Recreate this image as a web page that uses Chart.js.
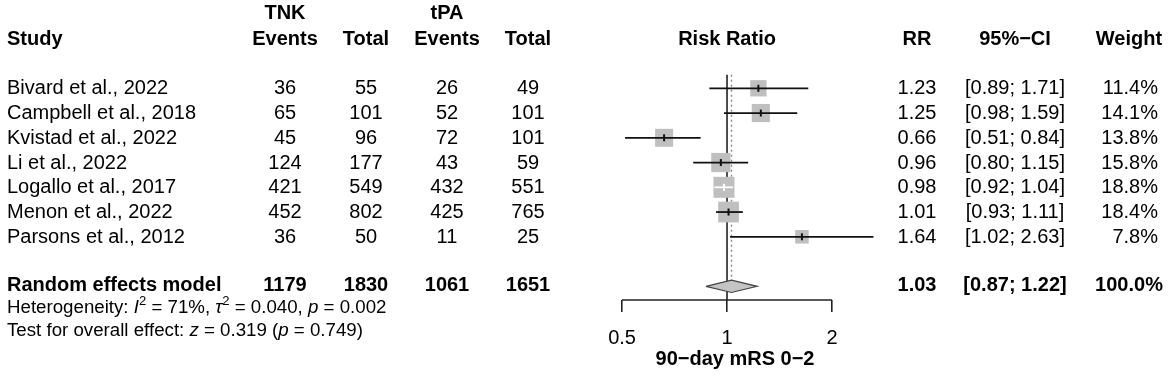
<!DOCTYPE html>
<html>
<head>
<meta charset="utf-8">
<script src="https://cdn.jsdelivr.net/npm/chart.js@4.4.1/dist/chart.umd.min.js"></script>
<style>
  html, body { margin: 0; padding: 0; background: #fff; }
  #wrap { width: 1170px; height: 378px; }
</style>
</head>
<body>
<div id="wrap"><canvas id="c" width="1170" height="378"></canvas></div>
<script>
// ---------- data ----------
const studies   = ["Bivard et al., 2022", "Campbell et al., 2018", "Kvistad et al., 2022", "Li et al., 2022",
                   "Logallo et al., 2017", "Menon et al., 2022", "Parsons et al., 2012"];
const tnkEvents = [36, 65, 45, 124, 421, 452, 36];
const tnkTotal  = [55, 101, 96, 177, 549, 802, 50];
const tpaEvents = [26, 52, 72, 43, 432, 425, 11];
const tpaTotal  = [49, 101, 101, 59, 551, 765, 25];
const rr        = [1.23, 1.25, 0.66, 0.96, 0.98, 1.01, 1.64];
const ciLow     = [0.89, 0.98, 0.51, 0.80, 0.92, 0.93, 1.02];
const ciHigh    = [1.71, 1.59, 0.84, 1.15, 1.04, 1.11, 2.63];
const weights   = [11.4, 14.1, 13.8, 15.8, 18.8, 18.4, 7.8];

const pooledLabel  = "Random effects model";
const pooledCounts = [1179, 1830, 1061, 1651];
const pooledRR     = 1.03;
const pooledLow    = 0.87;
const pooledHigh   = 1.22;
const pooledWeight = 100.0;

const heterogeneity = { I2: "71%", tau2: "0.040", p: "0.002" };
const overall       = { z: "0.319", p: "0.749" };

const xTicks = [0.5, 1, 2];
const xTitle = "90\u2212day mRS 0\u22122";

// ---------- layout / style ----------
const FONT = "'Liberation Sans', Arial, Helvetica, sans-serif";
const FS = 20;                             // main font size
const pooledRow = studies.length + 1;      // blank row between studies and pooled
const boxScale = 4.84;                     // square side (px) per sqrt(weight)
const diamondHalf = 0.25;                  // diamond half-height in row units
const lineTop = -0.55, axisRow = 8.553;

Chart.defaults.font.family = FONT;
Chart.defaults.color = '#000';

const sides = weights.map(w => boxScale * Math.sqrt(w));

const ciDatasets = studies.map((s, i) => ({
  type: 'scatter',
  data: [{x: ciLow[i], y: i}, {x: ciHigh[i], y: i}],
  showLine: true,
  borderWidth: 1.8,
  pointRadius: 0,
  clip: false,
  order: 2,
  segment: {
    borderColor: c => (c.p1.x - c.p0.x) < sides[i] ? '#ffffff' : '#111111'
  },
  borderColor: '#111111'
}));

const datasets = [
  // reference line at RR = 1
  { type: 'scatter', data: [{x: 1, y: lineTop}, {x: 1, y: axisRow}], showLine: true,
    borderColor: '#222', borderWidth: 1.6, pointRadius: 0, clip: false, order: 9 },
  // dotted line at pooled estimate
  { type: 'scatter', data: [{x: pooledRR, y: lineTop}, {x: pooledRR, y: pooledRow - diamondHalf}], showLine: true,
    borderColor: '#888', borderWidth: 1.4, borderDash: [2, 3], pointRadius: 0, clip: false, order: 8 },
  // x axis line
  { type: 'scatter', data: [{x: xTicks[0], y: axisRow}, {x: xTicks[xTicks.length - 1], y: axisRow}], showLine: true,
    borderColor: '#222', borderWidth: 1.6, pointRadius: 0, clip: false, order: 7 },
  // weight squares
  { type: 'scatter', data: rr.map((v, i) => ({x: v, y: i})),
    pointStyle: 'rect', pointRadius: sides.map(s => s / Math.SQRT2), pointBorderWidth: 0,
    pointBackgroundColor: '#bfbfbf', pointBorderColor: '#bfbfbf', clip: false, order: 5 },
  ...ciDatasets,
  // point estimate ticks
  { type: 'scatter', data: rr.map((v, i) => ({x: v, y: i})),
    pointStyle: 'line', rotation: 90, pointRadius: 3.5, pointBorderWidth: 2,
    pointBorderColor: c => {
      const xs = c.chart.scales.x, i = c.dataIndex;
      if (i === undefined) return '#111';
      const w = xs.getPixelForValue(ciHigh[i]) - xs.getPixelForValue(ciLow[i]);
      return w < sides[i] ? '#ffffff' : '#111111';
    },
    clip: false, order: 1 },
  // pooled diamond
  { type: 'scatter',
    data: [{x: pooledLow, y: pooledRow}, {x: pooledRR, y: pooledRow - diamondHalf},
           {x: pooledHigh, y: pooledRow}, {x: pooledRR, y: pooledRow + diamondHalf},
           {x: pooledLow, y: pooledRow}],
    showLine: true, fill: 'shape', backgroundColor: '#c4c4c4', borderColor: '#444', borderWidth: 1.2,
    pointRadius: 0, clip: false, order: 3 }
];

// ---------- text table plugin ----------
function txt(ctx, s, x, y, align, opts = {}) {
  const size = opts.size || FS;
  ctx.font = (opts.italic ? 'italic ' : '') + (opts.bold ? 'bold ' : '') + size + 'px ' + FONT;
  ctx.textAlign = align;
  ctx.textBaseline = 'middle';
  ctx.fillStyle = '#000';
  ctx.fillText(s, x, y);
  return ctx.measureText(s).width;
}
function runs(ctx, parts, x, y, size) {
  let cx = x;
  for (const p of parts) {
    const sz = p.sup ? size * 0.7 : size;
    const yy = p.sup ? y - size * 0.35 : y;
    cx += txt(ctx, p.t, cx, yy, 'left', {size: sz, italic: p.i});
  }
}

const cols = { study: 7, tnkE: 285, tnkT: 366, tpaE: 447, tpaT: 528,
               rr: 917, ci: 1015, wRight: 1158, w: 1129 };

const tablePlugin = {
  id: 'table',
  afterDraw(chart) {
    const ctx = chart.ctx, ys = chart.scales.y, xs = chart.scales.x;
    ctx.save();
    const yH1 = 13.5, yH2 = 39.5;
    // headers
    txt(ctx, 'TNK', cols.tnkE, yH1, 'center', {bold: true});
    txt(ctx, 'tPA', cols.tpaE, yH1, 'center', {bold: true});
    txt(ctx, 'Study', cols.study, yH2, 'left', {bold: true});
    txt(ctx, 'Events', cols.tnkE, yH2, 'center', {bold: true});
    txt(ctx, 'Total', cols.tnkT, yH2, 'center', {bold: true});
    txt(ctx, 'Events', cols.tpaE, yH2, 'center', {bold: true});
    txt(ctx, 'Total', cols.tpaT, yH2, 'center', {bold: true});
    txt(ctx, 'Risk Ratio', xs.getPixelForValue(1), yH2, 'center', {bold: true});
    txt(ctx, 'RR', cols.rr, yH2, 'center', {bold: true});
    txt(ctx, '95%\u2212CI', cols.ci, yH2, 'center', {bold: true});
    txt(ctx, 'Weight', cols.w, yH2, 'center', {bold: true});
    // study rows
    studies.forEach((s, i) => {
      const y = ys.getPixelForValue(i) + 0.5;
      txt(ctx, s, cols.study, y, 'left');
      txt(ctx, String(tnkEvents[i]), cols.tnkE, y, 'center');
      txt(ctx, String(tnkTotal[i]), cols.tnkT, y, 'center');
      txt(ctx, String(tpaEvents[i]), cols.tpaE, y, 'center');
      txt(ctx, String(tpaTotal[i]), cols.tpaT, y, 'center');
      txt(ctx, rr[i].toFixed(2), cols.rr, y, 'center');
      txt(ctx, '[' + ciLow[i].toFixed(2) + '; ' + ciHigh[i].toFixed(2) + ']', cols.ci, y, 'center');
      txt(ctx, weights[i].toFixed(1) + '%', cols.wRight, y, 'right');
    });
    // pooled row
    const yp = ys.getPixelForValue(pooledRow) - 1;
    txt(ctx, pooledLabel, cols.study, yp, 'left', {bold: true});
    [cols.tnkE, cols.tnkT, cols.tpaE, cols.tpaT].forEach((x, k) =>
      txt(ctx, String(pooledCounts[k]), x, yp, 'center', {bold: true}));
    txt(ctx, pooledRR.toFixed(2), cols.rr, yp, 'center', {bold: true});
    txt(ctx, '[' + pooledLow.toFixed(2) + '; ' + pooledHigh.toFixed(2) + ']', cols.ci, yp, 'center', {bold: true});
    txt(ctx, pooledWeight.toFixed(1) + '%', cols.w, yp, 'center', {bold: true});
    // statistics
    const sz = 18.7;
    runs(ctx, [
      {t: 'Heterogeneity: '}, {t: 'I', i: true}, {t: '2', sup: true},
      {t: ' = ' + heterogeneity.I2 + ', '}, {t: '\u03c4', i: true}, {t: '2', sup: true},
      {t: ' = ' + heterogeneity.tau2 + ', '}, {t: 'p', i: true}, {t: ' = ' + heterogeneity.p}
    ], cols.study, 308, sz);
    runs(ctx, [
      {t: 'Test for overall effect: '}, {t: 'z', i: true}, {t: ' = ' + overall.z + ' ('},
      {t: 'p', i: true}, {t: ' = ' + overall.p + ')'}
    ], cols.study, 330.5, sz);
    ctx.restore();
  }
};

new Chart(document.getElementById('c'), {
  type: 'scatter',
  data: { datasets },
  plugins: [tablePlugin],
  options: {
    responsive: false,
    animation: false,
    devicePixelRatio: 1,
    layout: { padding: { left: 590, right: 290, top: 51.175, bottom: 0 } },
    plugins: { legend: { display: false }, tooltip: { enabled: false } },
    scales: {
      x: {
        type: 'logarithmic',
        position: 'bottom',
        min: 0.4046, max: 2.746,
        afterBuildTicks: s => { s.ticks = xTicks.map(v => ({ value: v })); },
        afterFit: s => { s.height = 78; },
        ticks: { callback: v => String(v), autoSkip: false, maxRotation: 0, minRotation: 0,
                 color: '#000', font: { size: FS, family: FONT }, padding: 14 },
        grid: { drawOnChartArea: false, drawTicks: true, tickLength: 12, color: '#222', lineWidth: 1.6 },
        border: { display: false },
        title: { display: true, text: xTitle, color: '#000',
                 font: { size: FS, weight: 'bold', family: FONT }, padding: { top: 0, bottom: 7 } }
      },
      y: { type: 'linear', reverse: true, min: -1.5, max: axisRow, display: false }
    }
  }
});
</script>
</body>
</html>
